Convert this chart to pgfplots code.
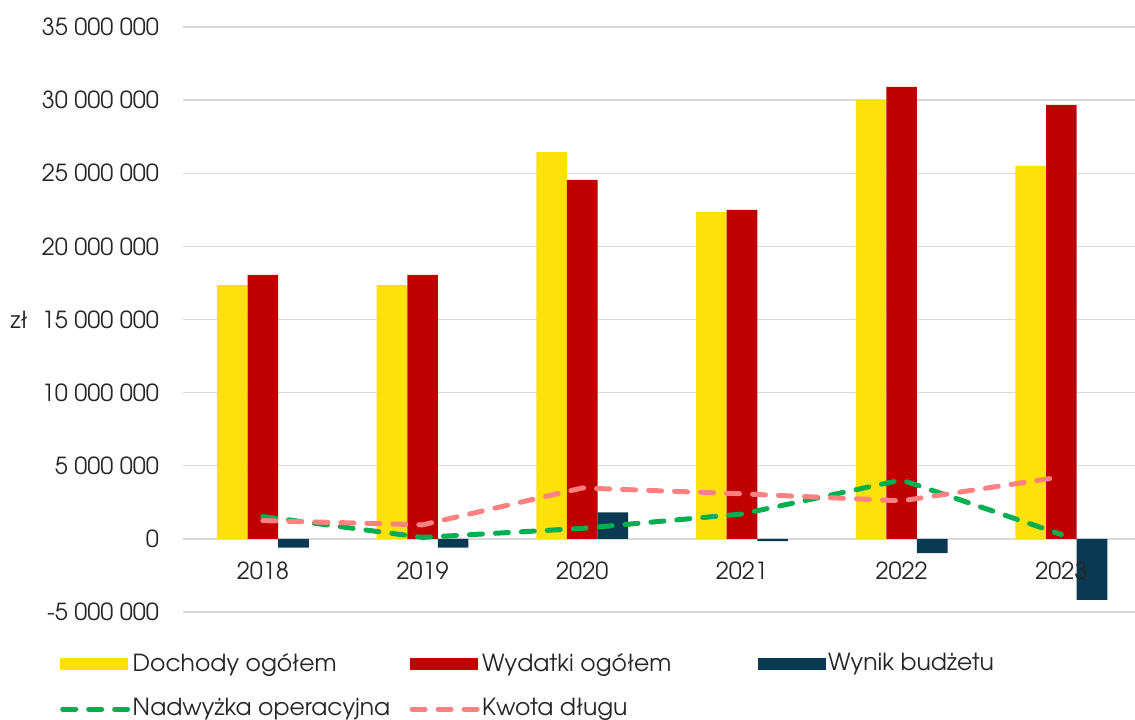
\documentclass[border=0pt]{standalone}
\usepackage{pgfplots}
\pgfplotsset{compat=1.18}
\usepackage{fontspec}
\setmainfont{TeX Gyre Adventor}
\definecolor{cYellow}{HTML}{FFE10A}
\definecolor{cRed}{HTML}{C00000}
\definecolor{cNavy}{HTML}{0A3A52}
\definecolor{cGreen}{HTML}{00B050}
\definecolor{cPink}{HTML}{FF8080}
\definecolor{cGrid}{HTML}{D9D9D9}
\pgfplotsset{
  layers/mylayers/.define layer set={axis background,axis grid,axis ticks,axis lines,pre main,main,axis tick labels,axis descriptions,axis foreground}{/pgfplots/layers/standard},
}
\begin{document}
\begin{tikzpicture}
\fontsize{23.5}{27}\selectfont
\begin{axis}[
  set layers=mylayers,
  scale only axis,
  width=952pt, height=585pt,
  xmin=-0.5, xmax=5.461,
  ymin=-5000000, ymax=35000000,
  axis x line=middle, axis y line=left,
  axis line style={draw=none},
  x axis line style={-}, y axis line style={-},
  major tick length=0pt,
  xtick={0,1,2,3,4,5},
  xticklabels={2018,2019,2020,2021,2022,2023},
  ytick={-5000000,0,5000000,10000000,15000000,20000000,25000000,30000000,35000000},
  scaled y ticks=false,
  /pgf/number format/fixed, /pgf/number format/precision=0,
  /pgf/number format/1000 sep={\ }, /pgf/number format/assume math mode=true,
  xticklabel style={yshift=-15pt},
  yticklabel style={xshift=-16pt},
  ymajorgrids, grid style={cGrid, line width=1.3pt},
  ylabel={zł}, ylabel style={rotate=-90, at={(axis description cs:-0.172,0.5)}, anchor=center},
  tick label style={font=\fontsize{23.5}{27}\selectfont, text=black!85},
  label style={font=\fontsize{23.5}{27}\selectfont, text=black!85},
  clip=false,
  legend columns=3,
  legend style={draw=none, fill=none, font=\fontsize{23.5}{27}\selectfont, text=black!85,
    at={(axis description cs:-0.1324,-0.063)}, anchor=north west,
    legend cell align=left, row sep=20pt,
    /tikz/column 2/.style={column sep=4pt},
    /tikz/column 4/.style={column sep=4pt}},
]
\addplot[ybar, bar width=30.6pt, bar shift=-30.6pt, fill=cYellow, draw=none,
  legend image code/.code={\fill[cYellow] (0pt,-6pt) rectangle (68pt,6pt);}]
  coordinates {(0,17360000) (1,17360000) (2,26450000) (3,22350000) (4,30000000) (5,25500000)};
\addlegendentry{\makebox[271pt][l]{Dochody ogółem}}
\addplot[ybar, bar width=30.6pt, bar shift=0pt, fill=cRed, draw=none,
  legend image code/.code={\fill[cRed] (0pt,-6pt) rectangle (68pt,6pt);}]
  coordinates {(0,18050000) (1,18050000) (2,24540000) (3,22490000) (4,30900000) (5,29670000)};
\addlegendentry{\makebox[270pt][l]{Wydatki ogółem}}
\addplot[ybar, bar width=30.6pt, bar shift=30.6pt, fill=cNavy, draw=none,
  legend image code/.code={\fill[cNavy] (0pt,-6pt) rectangle (68pt,6pt);}]
  coordinates {(0,-600000) (1,-600000) (2,1820000) (3,-150000) (4,-980000) (5,-4170000)};
\addlegendentry{Wynik budżetu}
\addplot[cGreen, line width=5pt, line cap=round, dash pattern=on 13pt off 13pt, mark=none,
  legend image code/.code={\draw[cGreen, line width=5pt, line cap=round, dash pattern=on 13pt off 13pt] (2.5pt,0pt) -- (68pt,0pt);}]
  coordinates {(0,1530000) (1,100000) (2,720000) (3,1700000) (4,4030000) (5,300000)};
\addlegendentry{Nadwyżka operacyjna}
\addplot[cPink, line width=5pt, line cap=round, dash pattern=on 13pt off 13pt, mark=none,
  legend image code/.code={\draw[cPink, line width=5pt, line cap=round, dash pattern=on 13pt off 13pt] (2.5pt,0pt) -- (68pt,0pt);}]
  coordinates {(0,1250000) (1,960000) (2,3480000) (3,3080000) (4,2600000) (5,4240000)};
\addlegendentry{Kwota długu}
\end{axis}
\pgfresetboundingbox
\useasboundingbox (-183pt,-108pt) rectangle (952pt,612pt);
\end{tikzpicture}
\end{document}
